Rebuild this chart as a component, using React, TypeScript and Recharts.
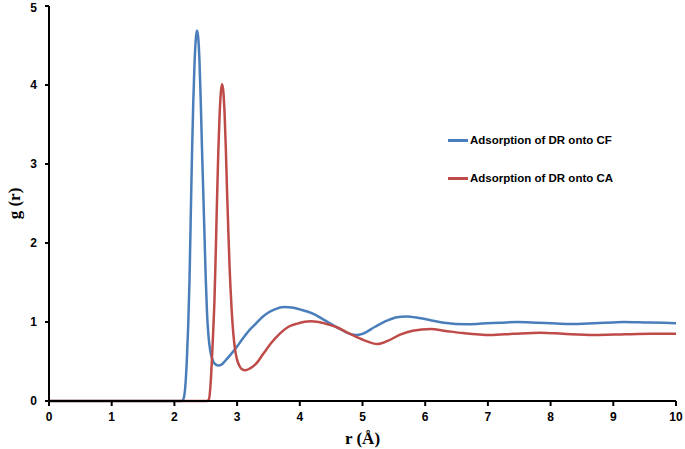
import { LineChart, Line, XAxis, YAxis } from 'recharts';

// r (Å) and g(r) for DR on CF
const cfR = [
  0, 1, 2, 2.12, 2.15, 2.18, 2.2, 2.22, 2.24, 2.26, 2.28, 2.3, 2.32, 2.34, 2.36, 2.38, 2.4, 2.42, 2.44,
  2.46, 2.48, 2.5, 2.52, 2.54, 2.56, 2.58, 2.62, 2.66, 2.7, 2.75, 2.8, 2.9, 3.0, 3.1, 3.2, 3.3, 3.4, 3.5, 3.6,
  3.75, 3.9, 4.0, 4.2, 4.4, 4.6, 4.8, 4.9, 5.0, 5.2, 5.4, 5.55, 5.7, 5.9, 6.1, 6.3, 6.67, 6.9, 7.2,
  7.47, 7.8, 8.1, 8.32, 8.7, 9.0, 9.17, 9.5, 9.8, 10,
];
const cfG = [
  0, 0, 0, 0, 0.04, 0.25, 0.55, 0.95, 1.5, 2.3, 3.1, 3.75, 4.25, 4.57, 4.69, 4.6, 4.3, 3.8, 3.2,
  2.65, 2.1, 1.55, 1.12, 0.86, 0.7, 0.6, 0.5, 0.46, 0.45, 0.46, 0.5, 0.59, 0.69, 0.8, 0.9, 0.98, 1.06, 1.12, 1.16,
  1.19, 1.18, 1.16, 1.11, 1.02, 0.93, 0.85, 0.835, 0.85, 0.94, 1.02, 1.06, 1.07, 1.05, 1.02, 0.99, 0.97, 0.98, 0.99,
  1.0, 0.99, 0.98, 0.975, 0.985, 0.995, 1.0, 0.995, 0.99, 0.985,
];

// r (Å) and g(r) for DR on CA
const caR = [
  0, 1, 2, 2.52, 2.55, 2.58, 2.6, 2.62, 2.64, 2.66, 2.68, 2.7, 2.72, 2.74, 2.76, 2.78, 2.8, 2.82, 2.84,
  2.86, 2.88, 2.91, 2.94, 2.97, 3.0, 3.04, 3.08, 3.13, 3.2, 3.3, 3.42, 3.55, 3.69, 3.82, 3.96, 4.17, 4.3, 4.49,
  4.6, 4.8, 5.02, 5.24, 5.4, 5.6, 5.8, 6.09, 6.3, 6.6, 7.04, 7.4, 7.84, 8.2, 8.69, 9.2, 9.6, 10,
];
const caG = [
  0, 0, 0, 0, 0.02, 0.25, 0.55, 0.9, 1.3, 1.9, 2.55, 3.15, 3.6, 3.9, 4.01, 3.92, 3.65, 3.2, 2.65,
  2.15, 1.7, 1.2, 0.85, 0.64, 0.52, 0.44, 0.4, 0.39, 0.41, 0.47, 0.6, 0.74, 0.86, 0.94, 0.98, 1.01, 1.0, 0.96,
  0.93, 0.85, 0.77, 0.72, 0.76, 0.84, 0.89, 0.91, 0.89, 0.86, 0.835, 0.85, 0.865, 0.85, 0.835, 0.845, 0.85, 0.85,
];

const xTicks = [0, 1, 2, 3, 4, 5, 6, 7, 8, 9, 10];
const yTicks = [0, 1, 2, 3, 4, 5];

const cfData = cfR.map((r, i) => ({ r, g: cfG[i] }));
const caData = caR.map((r, i) => ({ r, g: caG[i] }));

const BLUE = '#4a7ebb';
const RED = '#be4b48';

const series = [
  { name: 'Adsorption of DR onto CF', color: BLUE, data: cfData },
  { name: 'Adsorption of DR onto CA', color: RED, data: caData },
];

const tickStyle = { fontFamily: 'Liberation Sans, Arial, sans-serif', fontWeight: 700, fontSize: 12, fill: '#000' };
const titleStyle = { fontFamily: 'Liberation Serif, serif', fontWeight: 700, fontSize: 17, fill: '#000' };

export default function App() {
  return (
    <div style={{ position: 'absolute', left: 0, top: 0, width: 685, height: 449, background: '#fff' }}>
      <LineChart width={685} height={449} margin={{ top: 6, right: 9, left: 0, bottom: 0 }}>
        <XAxis
          dataKey="r"
          type="number"
          domain={[0, 10]}
          ticks={xTicks}
          allowDataOverflow
          height={48}
          axisLine={{ stroke: '#000', strokeWidth: 2 }}
          tickLine={{ stroke: '#000', strokeWidth: 2 }}
          tickSize={5}
          tick={tickStyle}
          tickMargin={6}
          label={{ value: 'r (Å)', position: 'insideBottom', offset: 5, style: titleStyle }}
        />
        <YAxis
          dataKey="g"
          type="number"
          domain={[0, 5]}
          ticks={yTicks}
          width={49}
          axisLine={{ stroke: '#000', strokeWidth: 2 }}
          tickLine={{ stroke: '#000', strokeWidth: 2 }}
          tickSize={4}
          tick={tickStyle}
          tickMargin={8}
          label={{
            value: 'g (r)',
            angle: -90,
            position: 'insideLeft',
            offset: 14,
            style: { ...titleStyle, textAnchor: 'middle' },
          }}
        />
        {series.map((s) => (
          <Line
            key={s.name}
            data={s.data}
            dataKey="g"
            name={s.name}
            type="monotone"
            stroke={s.color}
            strokeWidth={2.5}
            dot={false}
            isAnimationActive={false}
          />
        ))}
      </LineChart>
      <div
        style={{
          position: 'absolute',
          left: 448,
          top: 121,
          fontFamily: 'Liberation Sans, Arial, sans-serif',
          fontWeight: 700,
          fontSize: 11.5,
          color: '#000',
        }}
      >
        {series.map((s) => (
          <div key={s.name} style={{ display: 'flex', alignItems: 'center', height: 38 }}>
            <span style={{ display: 'inline-block', width: 20, height: 3, background: s.color, marginRight: 2 }} />
            <span>{s.name}</span>
          </div>
        ))}
      </div>
    </div>
  );
}
